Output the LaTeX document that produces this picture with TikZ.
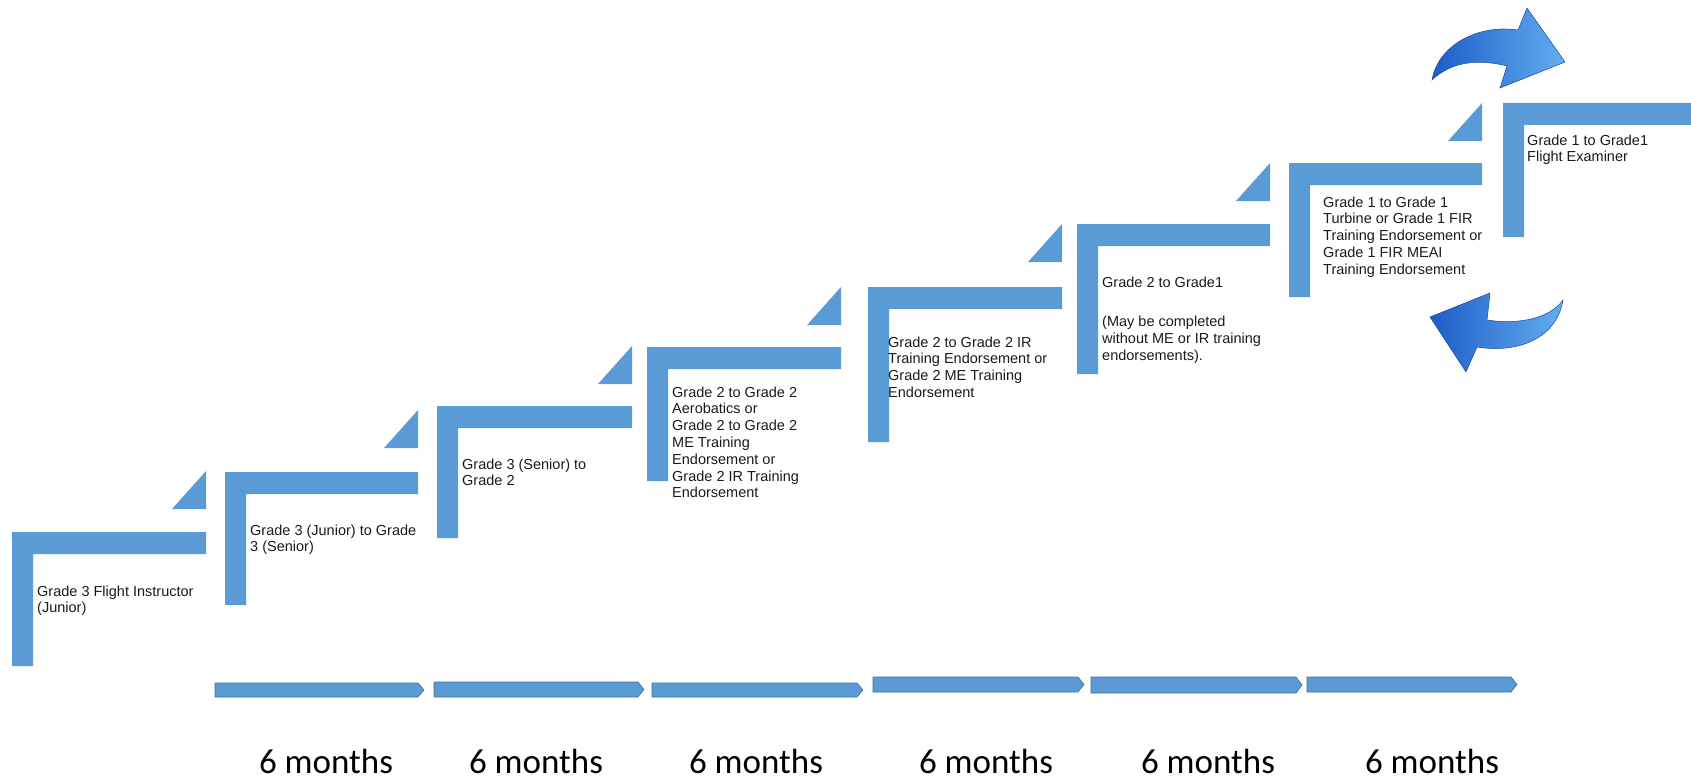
\documentclass[tikz,border=0pt]{standalone}
\usepackage{fontspec}
\setmainfont{Liberation Sans}
\newfontfamily\monthsfont{Carlito}
\definecolor{stepblue}{HTML}{5B9BD5}
\definecolor{stepedge}{HTML}{41719C}
\definecolor{glossdark}{HTML}{1E5CC8}
\definecolor{glosslight}{HTML}{62AEF0}
\definecolor{txt}{HTML}{1A1A1A}
\tikzset{
  stepshape/.style={fill=stepblue, draw=none},
  timearrow/.style={fill=stepblue, draw=stepedge, line width=0.6pt},
  steptext/.style={anchor=base west, inner sep=0pt, align=left, text=txt,
    font=\fontsize{14.5pt}{16.8pt}\selectfont},
  monthtext/.style={anchor=base, inner sep=0pt, text=black,
    font=\monthsfont\fontsize{35pt}{40pt}\selectfont},
  gloss/.style={left color=glossdark, right color=glosslight, draw=glossdark!80!black, line width=0.5pt}
}
\begin{document}
\begin{tikzpicture}[x=1pt,y=-1pt]
\useasboundingbox (0,0) rectangle (1691,781);
% steps: xL, yT, xR, yB
\foreach \xl/\yt/\xr/\yb in {12/532/206/666, 225/472/418/605, 437/406/632/538, 647/347/841/481, 868/287/1062/442, 1077/224/1270/374, 1289/163/1482/297, 1503/103/1691/237}{
  \fill[stepshape] (\xl,\yb) -- (\xl,\yt) -- (\xr,\yt) -- (\xr,\yt+22) -- (\xl+21,\yt+22) -- (\xl+21,\yb) -- cycle;
}
% triangles: xR, top
\foreach \xr/\yt in {206/471, 418/410, 632/346, 841/287, 1062/224, 1270/163, 1482/103}{
  \fill[stepshape] (\xr,\yt) -- (\xr,\yt+38) -- (\xr-34,\yt+38) -- cycle;
}
% texts (anchored at the baseline of the last line)
\node[steptext] (t1) at (37,612.8) {Grade 3 Flight Instructor\\(Junior)};
\node[steptext] (t2) at (250,551.8) {Grade 3 (Junior) to Grade\\3 (Senior)};
\node[steptext] (t3) at (462,485.8) {Grade 3 (Senior) to\\Grade 2};
\node[steptext] (t4) at (672,497.8) {Grade 2 to Grade 2\\Aerobatics or\\Grade 2 to Grade 2\\ME Training\\Endorsement or\\Grade 2 IR Training\\Endorsement};
\node[steptext] (t5) at (888,397.4) {Grade 2 to Grade 2 IR\\Training Endorsement or\\Grade 2 ME Training\\Endorsement};
\node[steptext] (t6) at (1102,360.4) {Grade 2 to Grade1\\[23pt](May be completed\\without ME or IR training\\endorsements).};
\node[steptext] (t7) at (1323,274.2) {Grade 1 to Grade 1\\Turbine or Grade 1 FIR\\Training Endorsement or\\Grade 1 FIR MEAI\\Training Endorsement};
\node[steptext] (t8) at (1527,161.8) {Grade 1 to Grade1\\Flight Examiner};
% timeline arrows: x0, x1, top, bottom
\foreach \xa/\xb/\ya/\yb in {215/424/683/697, 434/644/682/697, 652/863/683/697, 873/1084/677/692, 1091/1302/677/693, 1307/1517/677/692}{
  \draw[timearrow] (\xa,\ya) -- (\xb-6,\ya) -- (\xb,{(\ya+\yb)/2}) -- (\xb-6,\yb) -- (\xa,\yb) -- cycle;
}
% month labels
\foreach \cx [count=\i] in {326,536,756,986,1208,1432}{
  \node[monthtext] (m\i) at (\cx,773) {6 months};
}
% glossy curved arrows
\shade[gloss] (1432,80) .. controls (1438,45) and (1478,24) .. (1518,30) -- (1527,8) -- (1565,62) -- (1500,88) -- (1507,66) .. controls (1475,58) and (1450,63) .. (1432,80) -- cycle;
\shade[gloss] (1563,300) .. controls (1550,318) and (1520,325) .. (1487,320) -- (1490,293) -- (1430,317) -- (1466,372) -- (1477,347) .. controls (1520,354) and (1557,337) .. (1563,300) -- cycle;
\end{tikzpicture}
\end{document}
